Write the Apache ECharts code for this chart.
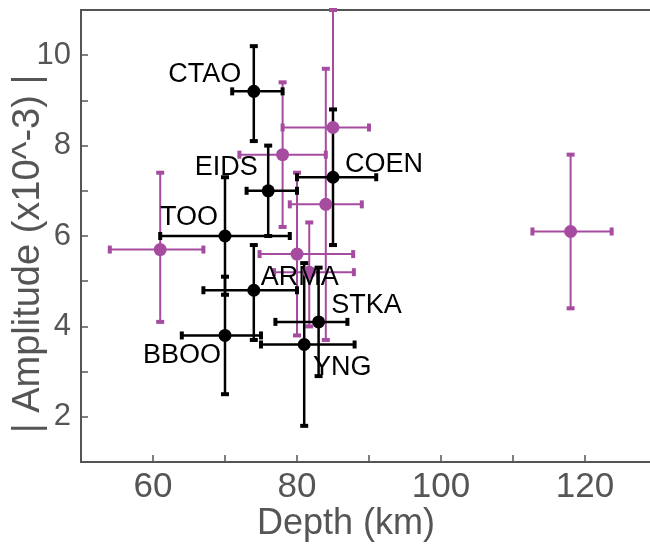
<!DOCTYPE html>
<html>
<head>
    <meta charset="UTF-8">
    <title>Amplitude vs Depth</title>
    <script src="https://cdn.jsdelivr.net/npm/echarts@6/dist/echarts.min.js"></script>
    <style>
        html, body { margin: 0; padding: 0; background: #fff; }
        #main { width: 650px; height: 546px; }
    </style>
</head>
<body>
<div id="main"></div>
<script type="text/javascript">
    // labelled stations (black)
    var stations = ['CTAO', 'EIDS', 'COEN', 'TOO', 'ARMA', 'STKA', 'BBOO', 'YNG'];
    var stDepth = [74, 76, 85, 70, 74, 83, 70, 81];
    var stDepthLo = [71, 73, 80, 61, 67, 77, 64, 75];
    var stDepthHi = [78, 80, 91, 79, 80, 87, 75, 88];
    var stAmp = [9.2, 7.0, 7.3, 6.0, 4.8, 4.1, 3.8, 3.6];
    var stAmpLo = [8.1, 6.0, 5.8, 4.7, 3.7, 2.9, 2.5, 1.8];
    var stAmpHi = [10.2, 8.0, 8.8, 7.3, 5.8, 5.3, 5.1, 5.4];

    // unlabelled points (purple)
    var pDepth = [85, 78, 84, 61, 80, 81.7, 118];
    var pDepthLo = [78, 72, 79, 54, 74.8, 76.8, 112.7];
    var pDepthHi = [90, 84, 89, 67, 87.8, 87.9, 123.7];
    var pAmp = [8.4, 7.8, 6.7, 5.7, 5.6, 5.2, 6.1];
    var pAmpLo = [5.8, 6.2, 3.7, 4.1, 3.8, 4.0, 4.4];
    var pAmpHi = [11.0, 9.4, 9.7, 7.4, 7.4, 6.3, 7.8];

    // label placement relative to each station marker (px)
    var labelOffsets = [[-49, -17], [-42, -23], [51, -13], [-36, -18], [46, -13], [48, -16], [-43, 20], [38, 23]];

    var black = '#000000';
    var purple = '#a64ca0';
    var grey = '#555555';
    var font = "'Liberation Sans', Arial, sans-serif";

    function errData(x, xl, xh, y, yl, yh) {
        var out = [];
        for (var i = 0; i < x.length; i++) {
            out.push([x[i], y[i], xl[i], xh[i], yl[i], yh[i]]);
        }
        return out;
    }

    function errRender(color, lw) {
        return function (params, api) {
            var x = api.value(0), y = api.value(1);
            var l = api.coord([api.value(2), y]);
            var r = api.coord([api.value(3), y]);
            var b = api.coord([x, api.value(4)]);
            var t = api.coord([x, api.value(5)]);
            var st = {stroke: color, lineWidth: lw};
            return {
                type: 'group',
                children: [
                    {type: 'line', shape: {x1: l[0], y1: l[1], x2: r[0], y2: r[1]}, style: st},
                    {type: 'line', shape: {x1: b[0], y1: b[1], x2: t[0], y2: t[1]}, style: st},
                    {type: 'rect', shape: {x: l[0] - 2, y: l[1] - 4, width: 4, height: 8}, style: {fill: color}},
                    {type: 'rect', shape: {x: r[0] - 2, y: r[1] - 4, width: 4, height: 8}, style: {fill: color}},
                    {type: 'rect', shape: {x: b[0] - 4, y: b[1] - 2, width: 8, height: 4}, style: {fill: color}},
                    {type: 'rect', shape: {x: t[0] - 4, y: t[1] - 2, width: 8, height: 4}, style: {fill: color}}
                ]
            };
        };
    }

    var stPoints = stations.map(function (name, i) {
        return {
            name: name,
            value: [stDepth[i], stAmp[i]],
            label: {offset: labelOffsets[i]}
        };
    });
    var pPoints = pDepth.map(function (d, i) {
        return [d, pAmp[i]];
    });

    var myChart = echarts.init(document.getElementById('main'));

    var option = {
        animation: false,
        grid: {
            left: 81, right: -7, top: 10, bottom: 84,
            containLabel: false,
            outerBoundsMode: 'none',
            show: true, borderColor: grey, borderWidth: 2
        },
        xAxis: {
            type: 'value',
            min: 50, max: 130, interval: 10,
            name: 'Depth (km)',
            nameLocation: 'middle',
            nameGap: 44,
            nameMoveOverlap: false,
            nameTextStyle: {fontSize: 36, color: grey, fontFamily: font, padding: [0, 46, 0, 0]},
            splitLine: {show: false},
            axisLine: {lineStyle: {color: grey, width: 2}},
            axisTick: {inside: true, length: 7, lineStyle: {color: grey, width: 1.5}},
            axisLabel: {
                fontSize: 35, color: grey, fontFamily: font, margin: 8,
                formatter: function (v) { return v % 20 === 0 ? v : ''; }
            }
        },
        yAxis: {
            type: 'value',
            min: 1, max: 11, interval: 1,
            name: '| Amplitude (x10^-3) |',
            nameLocation: 'middle',
            nameGap: 33,
            nameMoveOverlap: false,
            nameTextStyle: {fontSize: 38, color: grey, fontFamily: font, padding: [0, 36, 0, 0]},
            splitLine: {show: false},
            axisLine: {lineStyle: {color: grey, width: 2}},
            axisTick: {inside: true, length: 7, lineStyle: {color: grey, width: 1.5}},
            axisLabel: {
                fontSize: 31, color: grey, fontFamily: font, margin: 10,
                formatter: function (v) { return v % 2 === 0 ? v : ''; }
            }
        },
        series: [
            {
                type: 'custom',
                renderItem: errRender(purple, 2),
                data: errData(pDepth, pDepthLo, pDepthHi, pAmp, pAmpLo, pAmpHi),
                z: 2
            },
            {
                type: 'custom',
                renderItem: errRender(black, 2.5),
                data: errData(stDepth, stDepthLo, stDepthHi, stAmp, stAmpLo, stAmpHi),
                z: 3
            },
            {
                type: 'scatter',
                symbolSize: 13,
                itemStyle: {color: purple, opacity: 1},
                data: pPoints,
                z: 4
            },
            {
                type: 'scatter',
                symbolSize: 13,
                itemStyle: {color: black, opacity: 1},
                label: {
                    show: true,
                    position: 'inside',
                    formatter: '{b}',
                    color: black,
                    fontSize: 27,
                    fontFamily: font
                },
                data: stPoints,
                z: 5
            }
        ]
    };

    myChart.setOption(option);
</script>
</body>
</html>
